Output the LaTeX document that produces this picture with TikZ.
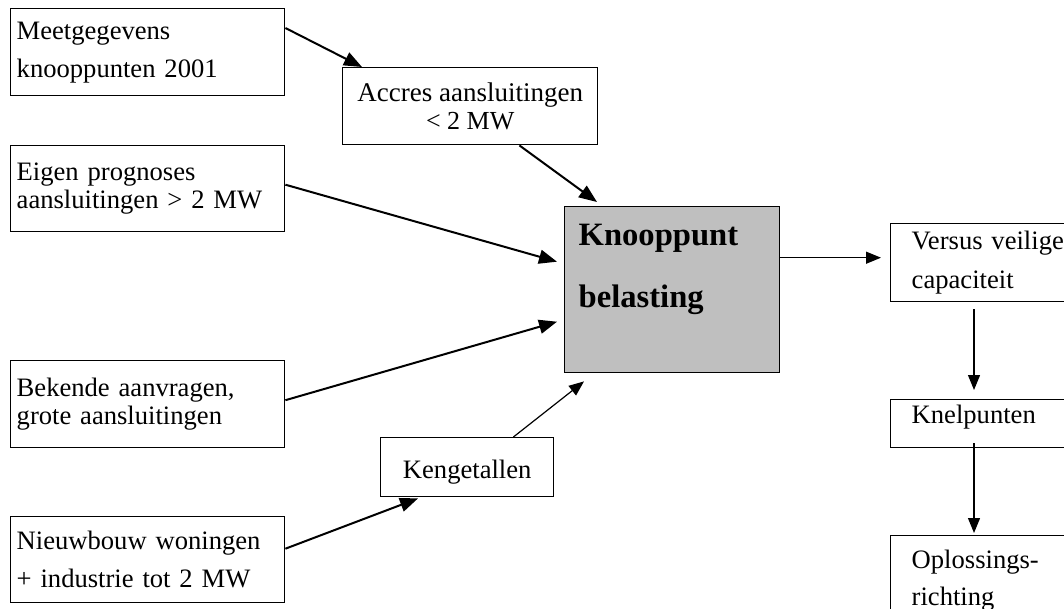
\documentclass[tikz,border=0pt]{standalone}
\usepackage{fontspec}
\setmainfont{Liberation Serif}
\usetikzlibrary{arrows.meta, calc}

\tikzset{
    inbox/.style={draw, line width=0.7pt, anchor=north west, inner xsep=3pt, inner ysep=0pt,
        text width=131pt, minimum height=43.5pt, align=left, font=\fontsize{13.3}{19}\selectfont},
    tight/.style={font=\fontsize{13.3}{14}\selectfont},
    midbox/.style={draw, line width=0.7pt, anchor=north west, inner sep=0pt, align=center},
    outbox/.style={draw, line width=0.7pt, anchor=north west, inner xsep=10.5pt, inner ysep=0pt,
        text width=84pt, align=left, font=\fontsize{13.3}{19.5}\selectfont},
    flow/.style={-{Triangle[length=9pt,width=7pt]}, line width=1pt},
    thinflow/.style={-{Triangle[length=7.5pt,width=6pt]}, line width=0.6pt}
}

\begin{document}
\begin{tikzpicture}[x=0.5pt, y=-0.5pt]
    \path[use as bounding box, clip] (0,0) rectangle (1064,609);

    % inputs
    \node[inbox] (meet) at (10,8) {Meetgegevens\\knooppunten 2001};
    \node[inbox, tight, minimum height=43pt] (eigen) at (10,145) {Eigen prognoses\\aansluitingen > 2 MW};
    \node[inbox, tight] (bekend) at (10,360) {Bekende aanvragen,\\grote aansluitingen};
    \node[inbox, minimum height=43pt] (nieuw) at (10,516) {Nieuwbouw woningen\\+ industrie tot 2 MW};

    \node[midbox, minimum width=127.5pt, minimum height=38.5pt, font=\fontsize{13.5}{14}\selectfont] (accres) at (342,67)
        {Accres aansluitingen\\{\fontsize{13}{14}\selectfont < 2 MW}};
    \node[midbox, minimum width=86.5pt, minimum height=29.5pt, text height=20.5pt, text depth=9pt,
        font=\fontsize{13.3}{16}\selectfont] (keng) at (380,437) {Kengetallen};

    % load
    \node[draw, line width=0.7pt, fill=black!25, anchor=north west, inner xsep=7pt, inner ysep=8.7pt] (load) at (564,206)
        {\parbox[c][65.6pt][t]{93.5pt}{\fontsize{16.3}{31}\selectfont\bfseries Knooppunt\\belasting}};

    % outputs
    \node[outbox, minimum height=39pt] (versus) at (890,223) {Versus veilige\\capaciteit};
    \node[outbox, text height=12pt, text depth=12pt] (knel) at (890,399) {Knelpunten};
    \node[outbox, minimum height=44.5pt, font=\fontsize{13.3}{18.5}\selectfont] (oplos) at (890,535) {Oplossings-\\richting};

    \draw[flow] ($(meet.north east)+(0,20)$) -- ($(accres.north west)+(20,0)$);
    \draw[flow] ($(accres.south east)+(-79,0)$) -- ($(load.north west)+(33,-4)$);
    \draw[flow] ($(eigen.east)+(0,-4)$) -- ($(load.west)+(-7,-28)$);
    \draw[flow] ($(bekend.east)+(0,-4)$) -- ($(load.west)+(-7,32)$);
    \draw[flow] ($(nieuw.east)+(0,-11)$) -- ($(keng.south west)+(38,1)$);
    \draw[thinflow] ($(keng.north east)+(-41,0)$) -- ($(load.south west)+(20,8)$);
    \draw[thinflow] ($(load.east)+(0,-32)$) -- ($(versus.west)+(-9,-5)$);
    \draw[thinflow] ($(versus.south west)+(84,7)$) -- ($(knel.north west)+(84,-9)$);
    \draw[thinflow] ($(knel.south west)+(84,-5)$) -- ($(oplos.north west)+(84,-2)$);
\end{tikzpicture}
\end{document}
